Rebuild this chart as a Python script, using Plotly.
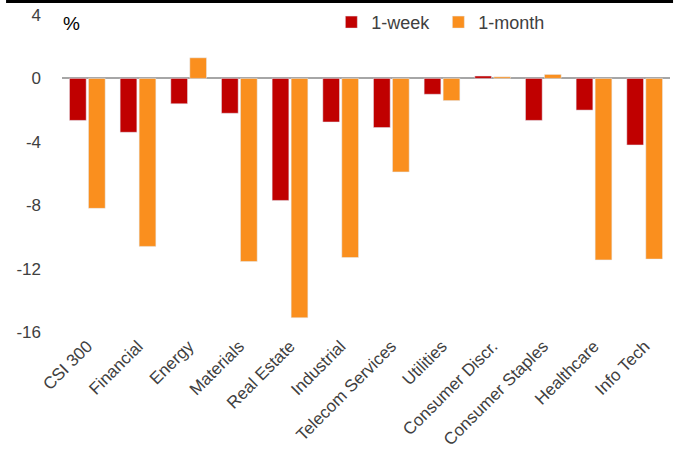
import plotly.graph_objects as go

categories = ["CSI 300", "Financial", "Energy", "Materials", "Real Estate", "Industrial",
              "Telecom Services", "Utilities", "Consumer Discr.", "Consumer Staples",
              "Healthcare", "Info Tech"]
week = [-2.65, -3.4, -1.6, -2.2, -7.7, -2.75, -3.1, -1.0, 0.15, -2.65, -2.0, -4.2]
month = [-8.2, -10.6, 1.3, -11.55, -15.1, -11.3, -5.9, -1.4, 0.1, 0.25, -11.45, -11.4]
y_ticks = [4, 0, -4, -8, -12, -16]
y_tick_labels = ["4", "0", "-4", "-8", "-12", "-16"]

FONT = "Liberation Sans, Arial, sans-serif"

fig = go.Figure()
fig.add_bar(x=categories, y=week, name="1-week", marker_color="#C00000")
fig.add_bar(x=categories, y=month, name="1-month", marker_color="#FA8F1E")

fig.update_layout(
    width=682, height=455,
    margin=dict(l=62, r=12, t=15, b=123, autoexpand=False),
    paper_bgcolor="white", plot_bgcolor="white",
    barmode="group", bargap=0.25, bargroupgap=0.12,
    font=dict(family=FONT, size=17, color="#404040"),
    showlegend=True,
    legend=dict(orientation="h", x=0.443, y=1.035, xanchor="left", yanchor="top",
                font=dict(family=FONT, size=18, color="#404040"),
                itemwidth=30, entrywidth=62, entrywidthmode="pixels",
                traceorder="normal", bgcolor="rgba(0,0,0,0)"),
    xaxis=dict(tickangle=-45, showline=False, ticks="", showgrid=False, automargin=False,
               tickfont=dict(family=FONT, size=17, color="#404040")),
    yaxis=dict(range=[-16, 4], tickvals=y_ticks, ticktext=y_tick_labels,
               showgrid=False, showline=False, automargin=False,
               ticks="", zeroline=True, zerolinecolor="#A6A6A6", zerolinewidth=2,
               layer="above traces", ticklabelstandoff=20,
               tickfont=dict(family=FONT, size=17, color="#404040")),
    shapes=[dict(type="line", xref="paper", yref="paper", x0=-0.092, x1=1.005,
                 y0=1.0426, y1=1.0426, line=dict(color="black", width=3))],
    annotations=[dict(text="%", xref="paper", yref="paper", x=-0.002, y=1.012,
                      xanchor="left", yanchor="top", showarrow=False,
                      font=dict(family=FONT, size=19, color="black"))],
)

fig.write_html("out.html", config={"displayModeBar": False},
               post_script="document.body.style.margin='0';")
